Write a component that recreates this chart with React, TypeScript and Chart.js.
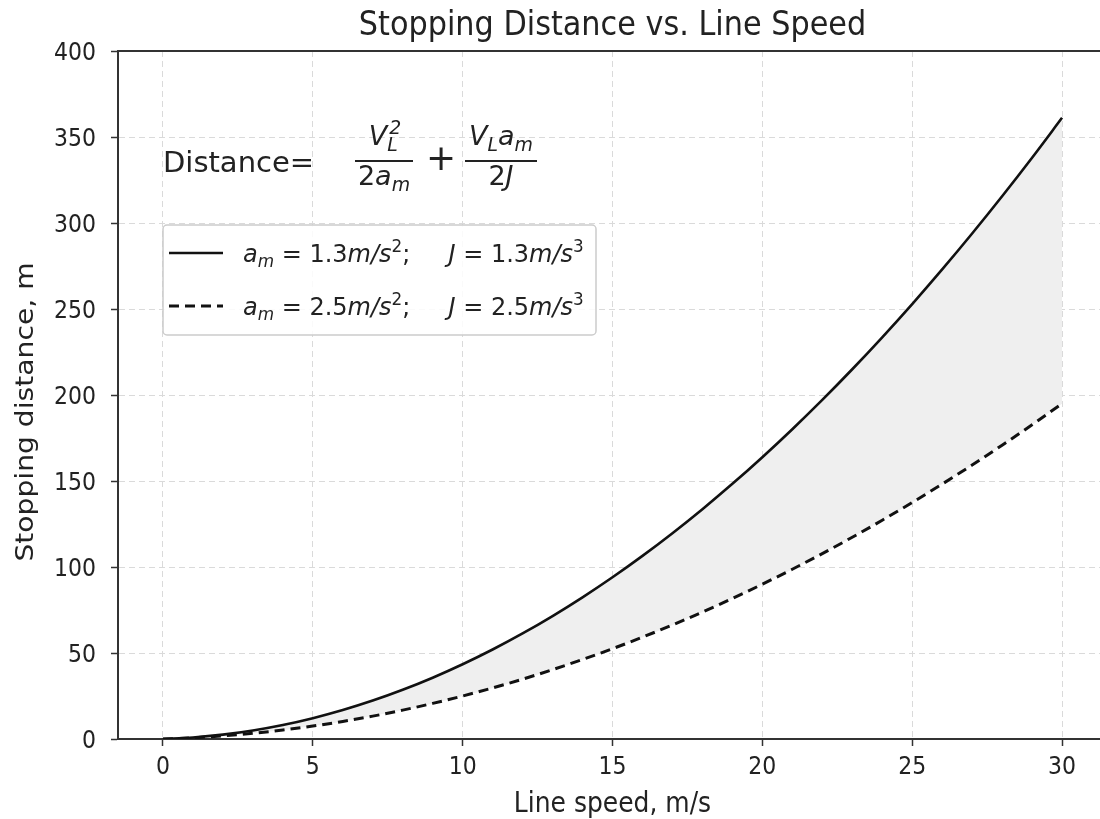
import React, { useEffect, useRef } from "react";
import { Chart, registerables } from "chart.js";

Chart.register(...registerables);

// ---- data ----
const speeds = [0, 1, 2, 3, 4, 5, 6, 7, 8, 9, 10, 11, 12, 13, 14, 15, 16, 17, 18, 19, 20, 21, 22, 23, 24, 25, 26, 27, 28, 29, 30];
const distanceLowDecel = [0, 0.88, 2.54, 4.96, 8.15, 12.12, 16.85, 22.35, 28.62, 35.65, 43.46, 52.04, 61.38, 71.5, 82.38, 94.04, 106.46, 119.65, 133.62, 148.35, 163.85, 180.12, 197.15, 214.96, 233.54, 252.88, 273.0, 293.88, 315.54, 337.96, 361.15];
const distanceHighDecel = [0, 0.7, 1.8, 3.3, 5.2, 7.5, 10.2, 13.3, 16.8, 20.7, 25, 29.7, 34.8, 40.3, 46.2, 52.5, 59.2, 66.3, 73.8, 81.7, 90, 98.7, 107.8, 117.3, 127.2, 137.5, 148.2, 159.3, 170.8, 182.7, 195];
const xTicks = [0, 5, 10, 15, 20, 25, 30];
const yTicks = [0, 50, 100, 150, 200, 250, 300, 350, 400];
const titleText = "Stopping Distance vs. Line Speed";
const xLabel = "Line speed, m/s";
const yLabel = "Stopping distance, m";

const FONT = "'DejaVu Sans', sans-serif";
const TEXT = "#222222";
const SPINE = "#333333";
const SY = 1.15; // vertical stretch of the reference's text

type Seg = { t: string; it?: boolean; sub?: boolean; sup?: boolean; subsup?: [string, string] };

function setFont(ctx: CanvasRenderingContext2D, size: number, it?: boolean) {
  ctx.font = `${it ? "italic " : ""}${size}px ${FONT}`;
}

// text stretched vertically about its baseline
function stretchedText(ctx: CanvasRenderingContext2D, text: string, x: number, y: number, size: number, align: CanvasTextAlign, sy = SY) {
  ctx.save();
  setFont(ctx, size);
  ctx.textAlign = align;
  ctx.textBaseline = "alphabetic";
  ctx.translate(x, y);
  ctx.scale(1, sy);
  ctx.fillText(text, 0, 0);
  ctx.restore();
}

function richWidth(ctx: CanvasRenderingContext2D, segs: Seg[], size: number) {
  let w = 0;
  for (const s of segs) {
    if (s.subsup) {
      setFont(ctx, size * 0.7, true);
      w += Math.max(ctx.measureText(s.subsup[0]).width, ctx.measureText(s.subsup[1]).width);
      continue;
    }
    const fs = s.sub || s.sup ? size * 0.7 : size;
    setFont(ctx, fs, s.it);
    w += ctx.measureText(s.t).width;
  }
  return w;
}

function drawRich(ctx: CanvasRenderingContext2D, segs: Seg[], x: number, y: number, size: number) {
  let cx = x;
  ctx.textBaseline = "alphabetic";
  ctx.textAlign = "left";
  for (const s of segs) {
    if (s.subsup) {
      setFont(ctx, size * 0.7, true);
      ctx.fillText(s.subsup[0], cx, y + size * 0.22);
      ctx.fillText(s.subsup[1], cx + 2, y - size * 0.42);
      cx += Math.max(ctx.measureText(s.subsup[0]).width, ctx.measureText(s.subsup[1]).width);
      continue;
    }
    const fs = s.sub || s.sup ? size * 0.7 : size;
    setFont(ctx, fs, s.it);
    const dy = s.sub ? size * 0.22 : s.sup ? -size * 0.42 : 0;
    ctx.fillText(s.t, cx, y + dy);
    cx += ctx.measureText(s.t).width;
  }
  return cx;
}

const legendRows: { segs: Seg[]; dash: number[]; width: number }[] = [
  {
    segs: [
      { t: "a", it: true }, { t: "m", it: true, sub: true }, { t: " = 1.3" }, { t: "m/s", it: true }, { t: "2", sup: true },
      { t: ";     " }, { t: "J", it: true }, { t: " = 1.3" }, { t: "m/s", it: true }, { t: "3", sup: true },
    ],
    dash: [],
    width: 2.6,
  },
  {
    segs: [
      { t: "a", it: true }, { t: "m", it: true, sub: true }, { t: " = 2.5" }, { t: "m/s", it: true }, { t: "2", sup: true },
      { t: ";     " }, { t: "J", it: true }, { t: " = 2.5" }, { t: "m/s", it: true }, { t: "3", sup: true },
    ],
    dash: [10, 6],
    width: 3,
  },
];

const decorPlugin = {
  id: "decor",
  afterDraw(chart: any) {
    const ctx: CanvasRenderingContext2D = chart.ctx;
    const a = chart.chartArea;
    const xs = chart.scales.x;
    const ys = chart.scales.y;
    ctx.save();
    // top spine
    ctx.strokeStyle = SPINE;
    ctx.lineWidth = 2;
    ctx.beginPath();
    ctx.moveTo(a.left - 1, a.top);
    ctx.lineTo(a.right, a.top);
    ctx.stroke();

    ctx.fillStyle = TEXT;
    // tick labels, placed through the scales
    const tickSize = 22;
    const digitHalf = 0.364 * tickSize * SY;
    for (const t of ys.ticks) {
      const y = ys.getPixelForValue(t.value);
      stretchedText(ctx, String(t.value), a.left - 22, y + digitHalf, tickSize, "right");
    }
    for (const t of xs.ticks) {
      const x = xs.getPixelForValue(t.value);
      stretchedText(ctx, String(t.value), x, a.bottom + 26 + digitHalf, tickSize, "center");
    }

    // axis titles
    stretchedText(ctx, xLabel, (a.left + a.right) / 2, 812, 25, "center");
    ctx.save();
    ctx.translate(33, 412);
    ctx.rotate(-Math.PI / 2);
    ctx.scale(SY, 1);
    setFont(ctx, 24.5);
    ctx.textAlign = "center";
    ctx.textBaseline = "alphabetic";
    ctx.fillText(yLabel, 0, 0);
    ctx.restore();

    // title centred on the axes
    stretchedText(ctx, titleText, (a.left + a.right) / 2, a.top - 16, 30.3, "center", 1.13);

    // formula
    const L = a.left;
    const T = a.top;
    ctx.fillStyle = TEXT;
    setFont(ctx, 29);
    ctx.textAlign = "left";
    ctx.textBaseline = "alphabetic";
    ctx.fillText("Distance=", L + 45, T + 121);

    const size = 27;
    const barY = T + 110;
    const fracs = [
      { x0: L + 237, x1: L + 295, num: [{ t: "V", it: true }, { t: "", subsup: ["L", "2"] }] as Seg[], den: [{ t: "2" }, { t: "a", it: true }, { t: "m", it: true, sub: true }] as Seg[] },
      { x0: L + 347, x1: L + 419, num: [{ t: "V", it: true }, { t: "L", it: true, sub: true }, { t: "a", it: true }, { t: "m", it: true, sub: true }] as Seg[], den: [{ t: "2" }, { t: "J", it: true }] as Seg[] },
    ];
    for (const f of fracs) {
      ctx.lineWidth = 1.8;
      ctx.strokeStyle = TEXT;
      ctx.beginPath();
      ctx.moveTo(f.x0, barY);
      ctx.lineTo(f.x1, barY);
      ctx.stroke();
      const cx = (f.x0 + f.x1) / 2;
      const wn = richWidth(ctx, f.num, size);
      drawRich(ctx, f.num, cx - wn / 2, barY - 16, size);
      const wd = richWidth(ctx, f.den, size);
      drawRich(ctx, f.den, cx - wd / 2, barY + 24, size);
    }
    setFont(ctx, 36);
    ctx.textAlign = "center";
    ctx.textBaseline = "middle";
    ctx.fillText("+", L + 323, barY);

    // legend box
    const bx = L + 45, by = T + 174, bw = 433, bh = 110;
    ctx.fillStyle = "rgba(255,255,255,0.85)";
    ctx.strokeStyle = "#cccccc";
    ctx.lineWidth = 1.5;
    ctx.beginPath();
    (ctx as any).roundRect(bx, by, bw, bh, 4);
    ctx.fill();
    ctx.stroke();
    const rowsY = [T + 202, T + 255];
    legendRows.forEach((r, i) => {
      const y = rowsY[i];
      ctx.strokeStyle = "#111111";
      ctx.lineWidth = r.width;
      ctx.setLineDash(r.dash);
      ctx.beginPath();
      ctx.moveTo(bx + 6, y);
      ctx.lineTo(bx + 60, y);
      ctx.stroke();
      ctx.setLineDash([]);
      ctx.fillStyle = TEXT;
      drawRich(ctx, r.segs, bx + 80, y + 9, 24);
    });
    ctx.restore();
  },
};

export default function App() {
  const ref = useRef<HTMLCanvasElement | null>(null);
  useEffect(() => {
    if (!ref.current) return;
    const gridOpts = { color: "#dadada", lineWidth: 1, tickLength: 7, tickColor: SPINE, tickWidth: 1.5, tickBorderDash: [] };
    const borderOpts = { color: SPINE, width: 2, dash: [6, 4] };
    const chart = new Chart(ref.current, {
      type: "line",
      data: {
        datasets: [
          {
            label: "a_m = 1.3, J = 1.3",
            data: speeds.map((v, i) => ({ x: v, y: distanceLowDecel[i] })),
            borderColor: "#111111",
            borderWidth: 2.6,
            pointRadius: 0,
            cubicInterpolationMode: "monotone",
            fill: "+1",
            backgroundColor: "#efefef",
          },
          {
            label: "a_m = 2.5, J = 2.5",
            data: speeds.map((v, i) => ({ x: v, y: distanceHighDecel[i] })),
            borderColor: "#111111",
            borderWidth: 3,
            borderDash: [10, 6],
            pointRadius: 0,
            cubicInterpolationMode: "monotone",
            fill: false,
          },
        ],
      },
      options: {
        animation: false,
        responsive: false,
        devicePixelRatio: 1,
        layout: { padding: { top: 51, left: 0, right: 0, bottom: 0 } },
        plugins: {
          legend: { display: false },
          tooltip: { enabled: false },
          title: { display: false },
          filler: { drawTime: "beforeDatasetsDraw" },
        },
        scales: {
          x: {
            type: "linear",
            min: -1.5,
            max: 31.5,
            afterBuildTicks: (s: any) => { s.ticks = xTicks.map((v) => ({ value: v })); },
            afterFit: (s: any) => { s.height = 80; },
            grid: gridOpts,
            border: borderOpts,
            ticks: { display: false },
            title: { display: false },
          },
          y: {
            type: "linear",
            min: 0,
            max: 400,
            afterBuildTicks: (s: any) => { s.ticks = yTicks.map((v) => ({ value: v })); },
            afterFit: (s: any) => { s.width = 118; },
            grid: gridOpts,
            border: borderOpts,
            ticks: { display: false },
            title: { display: false },
          },
        },
      },
      plugins: [decorPlugin],
    } as any);
    return () => chart.destroy();
  }, []);
  return (
    <div style={{ position: "absolute", left: 0, top: 0, width: 1100, height: 819, overflow: "hidden", background: "#fff" }}>
      <canvas ref={ref} width={1107} height={819} style={{ display: "block" }} />
    </div>
  );
}
